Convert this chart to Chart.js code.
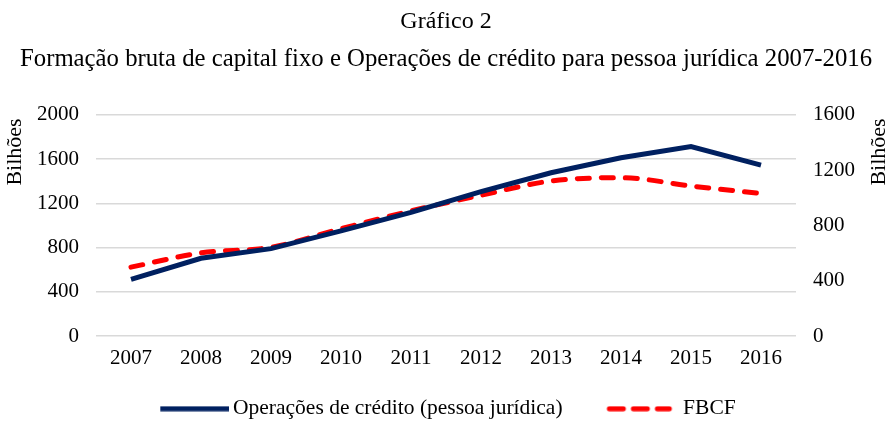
<!DOCTYPE html>
<html>
<head>
<meta charset="utf-8">
<script src="https://cdn.jsdelivr.net/npm/chart.js@4.4.0/dist/chart.umd.min.js"></script>
<style>
  html, body { margin: 0; padding: 0; background: #fff; }
  #wrap { width: 886px; height: 421px; }
</style>
</head>
<body>
<div id="wrap"><canvas id="grafico"></canvas></div>
<script>
// Dados
const anos = ['2007', '2008', '2009', '2010', '2011', '2012', '2013', '2014', '2015', '2016'];
const operacoesCredito = [512, 703, 790, 950, 1118, 1305, 1476, 1611, 1713, 1545];
const fbcf = [498, 601, 642, 776, 905, 1018, 1121, 1145, 1085, 1030];
const ticksEsquerda = [0, 400, 800, 1200, 1600, 2000];
const ticksDireita = [0, 400, 800, 1200, 1600];

const azul = '#002060';
const vermelho = '#ff0000';
const fonte = 'Liberation Serif, Times New Roman, serif';

// Amostras da legenda (linha cheia / tracejada)
function amostra(cor, tracejado) {
  const c = document.createElement('canvas');
  c.width = 80;
  c.height = 6;
  const g = c.getContext('2d');
  g.strokeStyle = cor;
  g.lineWidth = 5;
  g.beginPath();
  if (tracejado) {
    g.lineCap = 'round';
    g.setLineDash([14, 10]);
    g.moveTo(10, 3);
    g.lineTo(70, 3);
  } else {
    g.moveTo(11, 3);
    g.lineTo(80, 3);
  }
  g.stroke();
  return c;
}

// Títulos dos eixos (Bilhões), os dois lidos de baixo para cima
const titulosEixos = {
  id: 'titulosEixos',
  afterDraw(chart) {
    const c = chart.ctx;
    c.save();
    c.fillStyle = '#000';
    c.font = '22px ' + fonte;
    c.textAlign = 'center';
    c.textBaseline = 'middle';
    [15, 879].forEach(x => {
      c.save();
      c.translate(x, 152);
      c.rotate(-Math.PI / 2);
      c.fillText('Bilhões', 0, 0);
      c.restore();
    });
    c.restore();
  }
};

const ctx = document.getElementById('grafico').getContext('2d');
new Chart(ctx, {
  type: 'line',
  data: {
    labels: anos,
    datasets: [
      {
        label: 'Operações de crédito (pessoa jurídica)',
        data: operacoesCredito,
        borderColor: azul,
        backgroundColor: azul,
        borderWidth: 5,
        pointRadius: 0,
        tension: 0,
        yAxisID: 'y'
      },
      {
        label: 'FBCF',
        data: fbcf,
        borderColor: vermelho,
        backgroundColor: vermelho,
        borderWidth: 5,
        borderDash: [12, 12],
        borderCapStyle: 'round',
        pointRadius: 0,
        cubicInterpolationMode: 'monotone',
        yAxisID: 'y1'
      }
    ]
  },
  options: {
    responsive: true,
    maintainAspectRatio: false,
    animation: false,
    layout: { padding: { left: 20, right: 14, top: 0, bottom: -8.5 } },
    plugins: {
      title: {
        display: true,
        text: 'Gráfico 2',
        color: '#000',
        font: { family: fonte, size: 24, weight: 'normal' },
        padding: { top: 7, bottom: 9 }
      },
      subtitle: {
        display: true,
        text: 'Formação bruta de capital fixo e Operações de crédito para pessoa jurídica 2007-2016',
        color: '#000',
        font: { family: fonte, size: 25 },
        padding: { top: 0, bottom: 40 }
      },
      legend: {
        position: 'bottom',
        labels: {
          color: '#000',
          font: { family: fonte, size: 21.5 },
          usePointStyle: true,
          pointStyleWidth: 66,
          padding: 18,
          generateLabels: function (chart) {
            // espaço final só para afastar o segundo item, como no original
            return chart.data.datasets.map((ds, i) => ({
              text: i === 0 ? ds.label + '\u2003\u2009' : ds.label,
              fontColor: '#000',
              pointStyle: amostra(ds.borderColor, i === 1),
              datasetIndex: i,
              hidden: false
            }));
          }
        }
      },
      tooltip: { enabled: false }
    },
    scales: {
      x: {
        offset: true,
        grid: { display: false, drawTicks: false },
        border: { display: false },
        ticks: { color: '#000', font: { family: fonte, size: 21, lineHeight: 1 }, padding: 11.5 }
      },
      y: {
        position: 'left',
        min: 0,
        max: 2000,
        afterBuildTicks: axis => { axis.ticks = ticksEsquerda.map(v => ({ value: v })); },
        grid: { color: '#d9d9d9', lineWidth: 1.5, drawTicks: false },
        border: { display: false },
        ticks: { color: '#000', font: { family: fonte, size: 21 }, padding: 17, callback: v => String(v) }
      },
      y1: {
        position: 'right',
        min: 0,
        max: 1600,
        afterBuildTicks: axis => { axis.ticks = ticksDireita.map(v => ({ value: v })); },
        grid: { display: false, drawTicks: false },
        border: { display: false },
        ticks: { color: '#000', font: { family: fonte, size: 21 }, padding: 17, callback: v => String(v) }
      }
    }
  },
  plugins: [titulosEixos]
});
</script>
</body>
</html>
